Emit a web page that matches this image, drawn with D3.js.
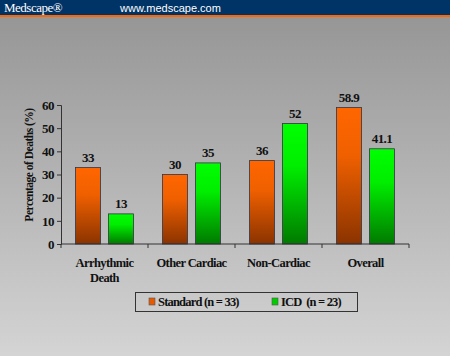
<!DOCTYPE html>
<html><head><meta charset="utf-8">
<script src="https://cdn.jsdelivr.net/npm/d3@7"></script>
<style>html,body{margin:0;padding:0;overflow:hidden;background:#ccc}</style>
</head><body>
<script>
const categories = [["Arrhythmic","Death"],["Other Cardiac"],["Non-Cardiac"],["Overall"]];
const seriesNames = ["Standard (n = 33)", "ICD  (n = 23)"];
const standard = [33, 30, 36, 58.9];
const icd = [13, 35, 52, 41.1];
const valueLabels = [["33","13"],["30","35"],["36","52"],["58.9","41.1"]];
const yTicks = [0,10,20,30,40,50,60];

const W = 450, H = 356;
const svg = d3.select("body").append("svg").attr("width", W).attr("height", H);
const defs = svg.append("defs");
const bg = defs.append("linearGradient").attr("id","bg").attr("x1",0).attr("y1",0).attr("x2",0).attr("y2",1);
bg.append("stop").attr("offset","0%").attr("stop-color","#969696");
bg.append("stop").attr("offset","100%").attr("stop-color","#d4d4d4");
const go = defs.append("linearGradient").attr("id","go").attr("x1",0).attr("y1",0).attr("x2",0).attr("y2",1);
go.append("stop").attr("offset","0%").attr("stop-color","#ff6600");
go.append("stop").attr("offset","35%").attr("stop-color","#f06000");
go.append("stop").attr("offset","100%").attr("stop-color","#8a3300");
const gg = defs.append("linearGradient").attr("id","gg").attr("x1",0).attr("y1",0).attr("x2",0).attr("y2",1);
gg.append("stop").attr("offset","0%").attr("stop-color","#00ff00");
gg.append("stop").attr("offset","35%").attr("stop-color","#00ee00");
gg.append("stop").attr("offset","100%").attr("stop-color","#007a00");

svg.append("rect").attr("x",0).attr("y",16).attr("width",W).attr("height",H-16).attr("fill","url(#bg)");
svg.append("rect").attr("x",0).attr("y",0).attr("width",W).attr("height",15).attr("fill","#003366");
svg.append("rect").attr("x",0).attr("y",15).attr("width",W).attr("height",2).attr("fill","#ff6600");
svg.append("text").attr("x",4).attr("y",12).attr("fill","#fff").attr("font-family","Liberation Serif").attr("font-size",13).attr("letter-spacing",-0.5).text("Medscape®");
svg.append("text").attr("x",120).attr("y",12).attr("fill","#fff").attr("font-family","Liberation Sans, Arial").attr("font-size",11).text("www.medscape.com");

const x0 = 61, x1 = 409, yTop = 105, yBot = 244;
const x = d3.scaleBand().domain(d3.range(categories.length)).range([x0, x1]);
const y = d3.scaleLinear().domain([0,60]).range([yBot, yTop]);
const font = "Liberation Serif, Times New Roman, serif";
function txt(sel, size, ls){
  return sel.attr("font-family",font).attr("font-weight","bold").attr("font-size",size)
    .attr("letter-spacing",ls).attr("fill","#111");
}

const g = svg.append("g");
const barW = 25, gap = 8;
const data = categories.map((c,i)=>({i, vals:[standard[i], icd[i]]}));
const grp = g.selectAll("g.cat").data(data).join("g");
grp.each(function(d){
  const cx = x(d.i) + x.bandwidth()/2;
  const sel = d3.select(this);
  d.vals.forEach((v,k)=>{
    const bx = k===0 ? cx - gap/2 - barW : cx + gap/2;
    sel.append("rect").attr("x",bx).attr("y",y(v)).attr("width",barW).attr("height",yBot - y(v))
      .attr("fill", k===0 ? "url(#go)" : "url(#gg)").attr("stroke","#333344").attr("stroke-width",0.8);
    txt(sel.append("text"),13,-0.6).attr("x",bx + barW/2).attr("y",y(v)-6).attr("text-anchor","middle")
      .text(valueLabels[d.i][k]);
  });
  categories[d.i].forEach((line,li)=>{
    txt(sel.append("text"),12.5,-0.6).attr("x",cx).attr("y",267 + li*15).attr("text-anchor","middle").text(line);
  });
});

// y axis
const yAxis = d3.axisLeft(y).tickValues(yTicks).tickSize(4).tickPadding(3);
const ya = svg.append("g").attr("transform",`translate(${x0},0)`).call(yAxis);
ya.select(".domain").attr("stroke","#333");
ya.selectAll(".tick line").attr("stroke","#333");
txt(ya.selectAll("text"),13,-0.5);

// x axis
const xa = svg.append("g").attr("transform",`translate(0,${yBot})`);
xa.append("line").attr("x1",x0).attr("x2",x1).attr("stroke","#333");
xa.selectAll("line.t").data(d3.range(categories.length+1)).join("line")
  .attr("x1",d=> d<categories.length ? x(d) : x1).attr("x2",d=> d<categories.length ? x(d) : x1)
  .attr("y1",0).attr("y2",4).attr("stroke","#333");

txt(svg.append("text"),11.5,-0.5).attr("transform","translate(33,165) rotate(-90)").attr("text-anchor","middle")
  .text("Percentage of Deaths (%)");

// legend
const lg = svg.append("g");
lg.append("rect").attr("x",135.5).attr("y",292.5).attr("width",222).attr("height",19)
  .attr("fill","none").attr("stroke","#333").attr("stroke-width",1);
const lx = [149, 272];
seriesNames.forEach((n,k)=>{
  lg.append("rect").attr("x",lx[k]).attr("y",298).attr("width",6).attr("height",7)
    .attr("fill", k===0 ? "#e85a00" : "#00cc00").attr("stroke","#555").attr("stroke-width",0.6);
  txt(lg.append("text"),12.5,-0.8).attr("x",lx[k]+9).attr("y",306)
    .attr("xml:space","preserve").style("white-space","pre").text(n);
});
</script>
</body></html>
